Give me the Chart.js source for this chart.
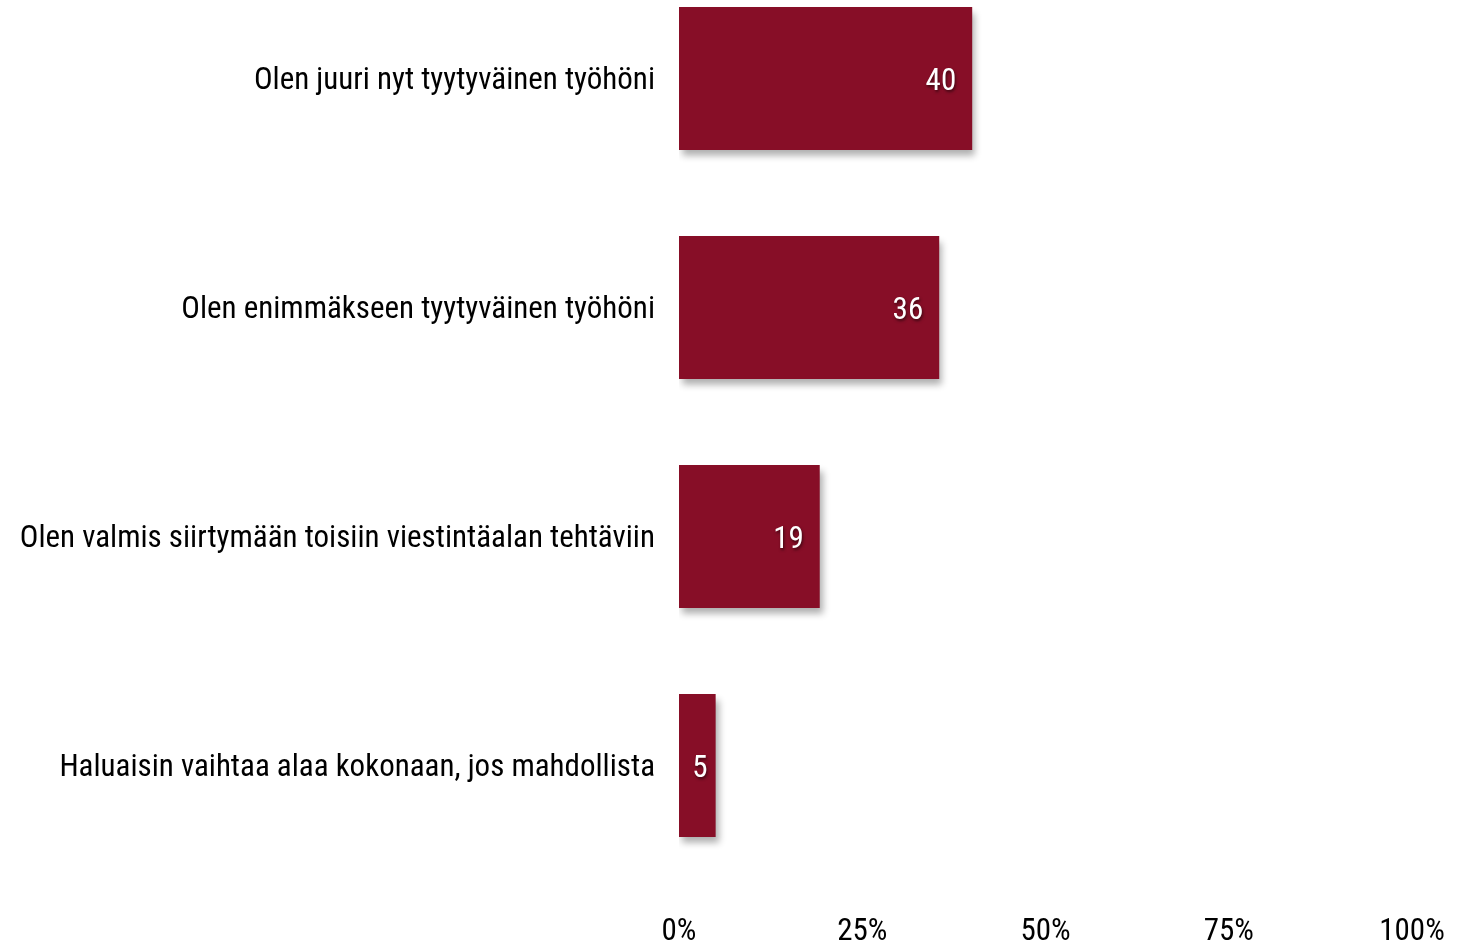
<!DOCTYPE html>
<html>
<head>
<meta charset="utf-8">
<script src="https://cdn.jsdelivr.net/npm/chart.js@4"></script>
<style>
  html, body { margin: 0; padding: 0; background: #fff; overflow: hidden; }
  #wrap { position: absolute; left: 0; top: -36px; width: 1475px; height: 980px; }
</style>
</head>
<body>
<div id="wrap"><canvas id="c" width="1475" height="980"></canvas></div>
<script>
const categories = [
  "Olen juuri nyt tyytyväinen työhöni",
  "Olen enimmäkseen tyytyväinen työhöni",
  "Olen valmis siirtymään toisiin viestintäalan tehtäviin",
  "Haluaisin vaihtaa alaa kokonaan, jos mahdollista"
];
const values = [40, 35.5, 19.2, 5];
const xTicks = [0, 25, 50, 75, 100];

const FONT = "'Roboto Condensed', 'DejaVu Sans Condensed', sans-serif";
const BAR = "#870e27";

const shadowPlugin = {
  id: 'barShadow',
  beforeDatasetsDraw(chart) {
    const ctx = chart.ctx;
    ctx.save();
    ctx.shadowColor = 'rgba(0,0,0,0.32)';
    ctx.shadowBlur = 7;
    ctx.shadowOffsetX = 3;
    ctx.shadowOffsetY = 6;
  },
  afterDatasetsDraw(chart) {
    chart.ctx.restore();
  }
};

const valueLabels = {
  id: 'valueLabels',
  afterDatasetsDraw(chart) {
    const ctx = chart.ctx;
    const meta = chart.getDatasetMeta(0);
    ctx.save();
    ctx.font = "31px " + FONT;
    ctx.fillStyle = '#fff';
    ctx.textAlign = 'right';
    ctx.textBaseline = 'middle';
    ctx.shadowColor = 'rgba(0,0,0,0.55)';
    ctx.shadowBlur = 3;
    ctx.shadowOffsetX = 1;
    ctx.shadowOffsetY = 2;
    meta.data.forEach((bar, i) => {
      const txt = String(Math.round(values[i]));
      const w = ctx.measureText(txt).width;
      const barW = bar.x - bar.base;
      const off = (barW < w + 32) ? 8 : 16;
      ctx.fillText(txt, bar.x - off, bar.y + 4);
    });
    ctx.restore();
  }
};

new Chart(document.getElementById('c'), {
  type: 'bar',
  data: {
    labels: categories,
    datasets: [{
      data: values,
      backgroundColor: BAR,
      borderWidth: 0,
      barPercentage: 0.625,
      categoryPercentage: 1.0
    }]
  },
  options: {
    indexAxis: 'y',
    responsive: false,
    animation: false,
    layout: { padding: { left: 0, right: 63, top: 0, bottom: 0 } },
    plugins: { legend: { display: false }, tooltip: { enabled: false } },
    scales: {
      x: {
        min: 0, max: 100,
        afterBuildTicks(scale) { scale.ticks = xTicks.map(v => ({ value: v })); },
        grid: { display: false, drawTicks: false },
        border: { display: false },
        ticks: {
          color: '#000',
          font: { family: FONT, size: 31 },
          padding: 34,
          maxRotation: 0,
          callback: v => v + '%'
        },
        afterFit(scale) { scale.height = 64; scale.paddingLeft = 0; scale.paddingRight = 0; }
      },
      y: {
        grid: { display: false, drawTicks: false },
        border: { display: false },
        ticks: {
          color: '#000',
          font: { family: FONT, size: 31 },
          padding: 24,
          labelOffset: 3
        },
        afterFit(scale) { scale.width = 679; scale.paddingTop = 0; scale.paddingBottom = 0; }
      }
    }
  },
  plugins: [shadowPlugin, valueLabels]
});
</script>
</body>
</html>
